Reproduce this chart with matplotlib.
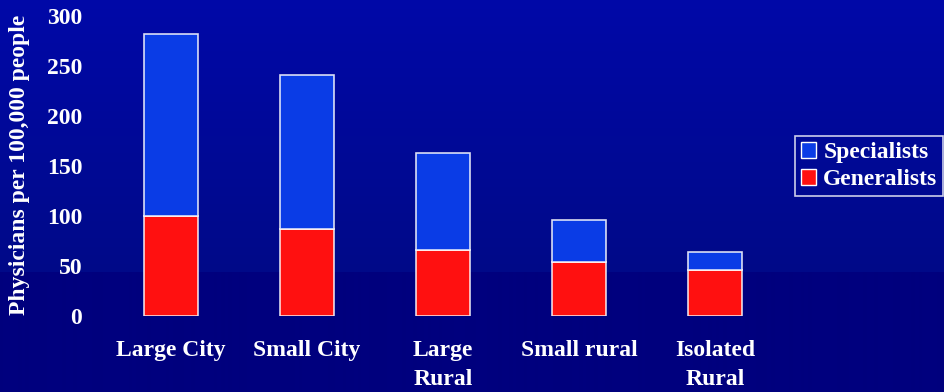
import numpy as np
import matplotlib
matplotlib.use("Agg")
import matplotlib.pyplot as plt
from matplotlib.patches import Patch

categories = ["Large City", "Small City", "Large\nRural", "Small rural", "Isolated\nRural"]
generalists = [100, 87, 66, 54, 46]
specialists = [182, 154, 97, 42, 18]
yticks = [0, 50, 100, 150, 200, 250, 300]

plt.rcParams["font.family"] = ["Liberation Serif", "DejaVu Serif"]
plt.rcParams["font.weight"] = "bold"

W, H, DPI = 945, 392, 100
FS = 17
fig = plt.figure(figsize=(W / DPI, H / DPI), dpi=DPI)

# background: blue gradient fading down, with a flat navy band at the bottom
bg = fig.add_axes([0, 0, 1, 1], zorder=0)
top = np.array([0, 8, 168]) / 255
mid = np.array([0, 10, 136]) / 255
low = np.array([0, 0, 126]) / 255
img = np.zeros((H, 1, 3))
for i in range(H):
    if i < 272:
        t = i / 272
        img[i, 0] = top * (1 - t) + mid * t
    else:
        img[i, 0] = low
bg.imshow(img, aspect="auto", extent=[0, 1, 0, 1], origin="upper")
bg.axis("off")

ax = fig.add_axes([103 / W, 1 - 316 / H, 680 / W, 300 / H], zorder=1)
ax.patch.set_alpha(0)
x = np.arange(len(categories))
edge = (1, 1, 1, 0.85)
ax.bar(x, generalists, width=0.4, color="#FF1010", edgecolor=edge, linewidth=1.2,
       label="Generalists")
ax.bar(x, specialists, width=0.4, bottom=generalists, color="#0A3CE6", edgecolor=edge,
       linewidth=1.2, label="Specialists")

ax.set_xlim(-0.5, len(categories) - 0.5)
ax.set_ylim(0, 300)
ax.set_yticks(yticks)
ax.set_yticklabels([str(v) for v in yticks], color="white", fontsize=FS, fontweight="bold")
ax.set_xticks(x)
ax.set_xticklabels(categories, color="white", fontsize=FS, fontweight="bold",
                   linespacing=1.5, va="top")
ax.tick_params(axis="both", length=0)
ax.tick_params(axis="x", pad=17)
ax.tick_params(axis="y", pad=15)
for s in ax.spines.values():
    s.set_visible(False)

fig.text(20 / W, 1 - 165 / H, "Physicians per 100,000 people", rotation=90,
         color="white", fontsize=FS, fontweight="bold", ha="center", va="center")

handles = [Patch(facecolor="#0A3CE6", edgecolor="white", label="Specialists"),
           Patch(facecolor="#FF1010", edgecolor="white", label="Generalists")]
leg = fig.legend(handles=handles, loc="center left", bbox_to_anchor=(795 / W, 1 - 166 / H),
                 frameon=True, fancybox=False, fontsize=FS, handlelength=0.65,
                 handleheight=0.65, handletextpad=0.3, borderpad=0.25, labelspacing=0.25,
                 borderaxespad=0)
leg.get_frame().set_facecolor("none")
leg.get_frame().set_edgecolor("white")
leg.get_frame().set_linewidth(1.2)
for t in leg.get_texts():
    t.set_color("white")
    t.set_fontweight("bold")

fig.savefig("out.png", dpi=DPI)
